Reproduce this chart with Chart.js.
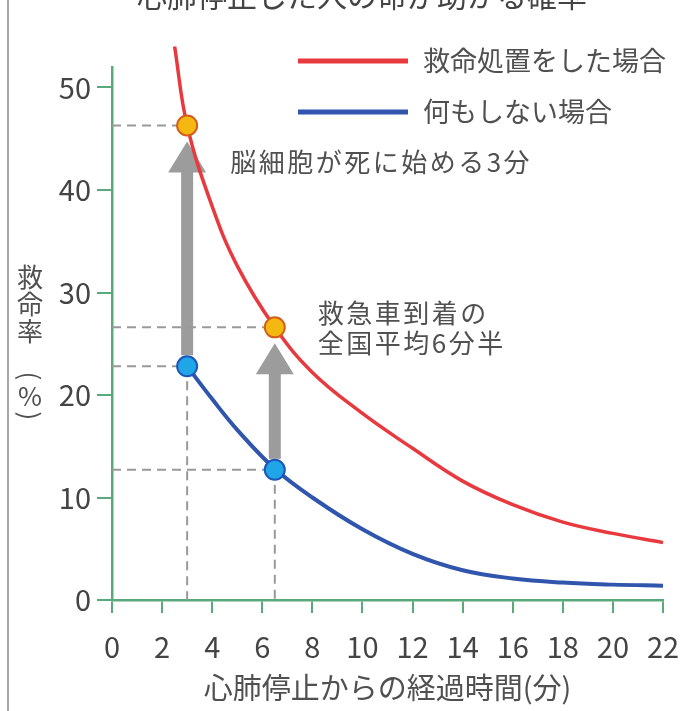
<!DOCTYPE html>
<html lang="ja">
<head>
<meta charset="utf-8">
<script src="https://cdn.jsdelivr.net/npm/chart.js@4.4.0/dist/chart.umd.min.js"></script>
<style>
  html, body { margin: 0; padding: 0; background: #fff; }
  #wrap { width: 680px; height: 711px; }
</style>
</head>
<body>
<div id="wrap"><canvas id="rescue-chart" width="680" height="711"></canvas></div>
<script>
"use strict";

const titleText = '心肺停止した人の命が助かる確率';
const xLabel = '心肺停止からの経過時間(分)';
const yLabelChars = ['救', '命', '率', '(', '%', ')'];
const seriesNames = ['救命処置をした場合', '何もしない場合'];

const xTicks = [0, 2, 4, 6, 8, 10, 12, 14, 16, 18, 20, 22];
const yTicks = [0, 10, 20, 30, 40, 50];

const rescueMinutes = [2.5, 3, 4, 5, 6.5, 8, 10, 12, 14, 16, 18, 20, 22];
const rescueRate    = [54, 46.3, 38.4, 32.6, 26.6, 22.2, 18.2, 14.8, 11.6, 9.3, 7.6, 6.5, 5.6];

const noneMinutes = [3, 4, 5, 6.5, 8, 10, 12, 14, 16, 18, 20, 22];
const noneRate    = [22.8, 19.6, 16.6, 12.8, 10.0, 6.9, 4.5, 2.9, 2.1, 1.7, 1.5, 1.4];

const markMinutes = [3, 6.5];
const markRescue  = [46.3, 26.6];
const markNone    = [22.8, 12.7];
const markNotes   = [['脳細胞が死に始める3分'], ['救急車到着の', '全国平均6分半']];

const FONT = '"Noto Sans CJK JP", "Noto Sans", sans-serif';
const RED = '#e8393f';
const BLUE = '#2f55ad';
const GREEN = '#5aa97a';
const TEXT = '#505050';
const GUIDE = '#999';

function toPoints(xs, ys) {
    return xs.map((x, i) => ({x: x, y: ys[i]}));
}

function guideSets() {
    const sets = [];
    markMinutes.forEach((m, i) => {
        sets.push([{x: 0, y: markRescue[i]}, {x: m, y: markRescue[i]}]);
        sets.push([{x: 0, y: markNone[i]}, {x: m, y: markNone[i]}]);
        sets.push([{x: m, y: markNone[i]}, {x: m, y: 0}]);
    });
    return sets.map(data => ({
        data: data,
        borderColor: GUIDE,
        borderWidth: 2,
        borderDash: [9, 6],
        pointRadius: 0,
        order: 3
    }));
}

const decorPlugin = {
    id: 'decor',
    beforeDatasetsDraw(chart) {
        const ctx = chart.ctx;
        const xs = chart.scales.x, ys = chart.scales.y;
        ctx.save();
        ctx.fillStyle = '#9c9c9c';
        markMinutes.forEach((m, i) => {
            const x = xs.getPixelForValue(m);
            const tip = ys.getPixelForValue(markRescue[i]) + 16;
            const base = tip + 31;
            const bottom = ys.getPixelForValue(markNone[i]) - 11;
            ctx.fillRect(x - 6, base - 1, 12, bottom - base + 1);
            ctx.beginPath();
            ctx.moveTo(x, tip);
            ctx.lineTo(x + 19, base);
            ctx.lineTo(x - 19, base);
            ctx.closePath();
            ctx.fill();
        });
        ctx.restore();
    },
    afterDraw(chart) {
        const ctx = chart.ctx;
        const xs = chart.scales.x, ys = chart.scales.y;
        ctx.save();

        // frame on the left
        ctx.strokeStyle = '#a8a8a8';
        ctx.lineWidth = 2;
        ctx.beginPath();
        ctx.moveTo(8, 0);
        ctx.lineTo(8, 711);
        ctx.stroke();

        // title, cut off at the top
        ctx.fillStyle = '#444';
        ctx.font = '30px ' + FONT;
        ctx.textAlign = 'center';
        ctx.textBaseline = 'middle';
        ctx.fillText(titleText, 362, -4);

        // y axis title, written top to bottom
        ctx.fillStyle = TEXT;
        ctx.font = '26px ' + FONT;
        const yPos = [277, 304, 331, 376, 396, 416];
        yLabelChars.forEach((c, i) => {
            if (c === '(' || c === ')') {
                ctx.save();
                ctx.translate(30, yPos[i]);
                ctx.rotate(Math.PI / 2);
                ctx.fillText(c, 0, 0);
                ctx.restore();
            } else {
                ctx.fillText(c, 30, yPos[i]);
            }
        });

        // legend
        const colors = [RED, BLUE];
        ctx.lineWidth = 5;
        ctx.textAlign = 'left';
        ctx.font = '27px ' + FONT;
        seriesNames.forEach((name, i) => {
            const y = 61 + i * 51;
            ctx.strokeStyle = colors[i];
            ctx.beginPath();
            ctx.moveTo(298, y);
            ctx.lineTo(408, y);
            ctx.stroke();
            ctx.fillText(name, 423, y);
        });

        // notes next to the markers
        ctx.font = '26px ' + FONT;
        ctx.letterSpacing = '2.5px';
        const noteShift = [[43, 37], [43, -14]];
        markNotes.forEach((lines, i) => {
            const x = xs.getPixelForValue(markMinutes[i]) + noteShift[i][0];
            const y = ys.getPixelForValue(markRescue[i]) + noteShift[i][1];
            lines.forEach((t, k) => ctx.fillText(t, x, y + k * 30));
        });
        ctx.restore();
    }
};

new Chart(document.getElementById('rescue-chart'), {
    type: 'line',
    data: {
        datasets: [{
            label: 'rescue-mark',
            data: toPoints(markMinutes, markRescue),
            showLine: false,
            pointRadius: 10,
            pointBackgroundColor: '#f5b810',
            pointBorderColor: '#d2601c',
            pointBorderWidth: 2,
            order: 0
        }, {
            label: 'none-mark',
            data: toPoints(markMinutes, markNone),
            showLine: false,
            pointRadius: 10,
            pointBackgroundColor: '#20a6e6',
            pointBorderColor: '#1d55b8',
            pointBorderWidth: 2,
            order: 0
        }, {
            label: seriesNames[0],
            data: toPoints(rescueMinutes, rescueRate),
            borderColor: RED,
            borderWidth: 3.5,
            pointRadius: 0,
            tension: 0.4,
            clip: false,
            order: 1
        }, {
            label: seriesNames[1],
            data: toPoints(noneMinutes, noneRate),
            borderColor: BLUE,
            borderWidth: 4,
            pointRadius: 0,
            tension: 0.4,
            order: 1
        }].concat(guideSets())
    },
    options: {
        responsive: false,
        animation: false,
        layout: {
            padding: {top: 67, right: 0, left: 0, bottom: 0}
        },
        plugins: {
            legend: {display: false},
            tooltip: {enabled: false}
        },
        scales: {
            x: {
                type: 'linear',
                min: 0,
                max: 22,
                afterBuildTicks: s => { s.ticks = xTicks.map(v => ({value: v})); },
                afterFit: s => {
                    s.height = 111;
                    s.paddingLeft = 0;
                    s.paddingRight = 17;
                },
                border: {color: GREEN, width: 2.5},
                grid: {drawOnChartArea: false, color: GREEN, lineWidth: 2, tickLength: 13},
                ticks: {color: '#444', font: {family: FONT, size: 29}, padding: 17, maxRotation: 0, autoSkip: false},
                title: {display: true, text: xLabel, color: TEXT, font: {family: FONT, size: 29}, padding: {top: 0, bottom: 6}}
            },
            y: {
                min: 0,
                max: 52,
                afterBuildTicks: s => { s.ticks = yTicks.map(v => ({value: v})); },
                afterFit: s => { s.width = 112; },
                border: {color: GREEN, width: 2.5},
                grid: {drawOnChartArea: false, color: GREEN, lineWidth: 2, tickLength: 15},
                ticks: {color: '#444', font: {family: FONT, size: 29}, padding: 6}
            }
        }
    },
    plugins: [decorPlugin]
});
</script>
</body>
</html>
